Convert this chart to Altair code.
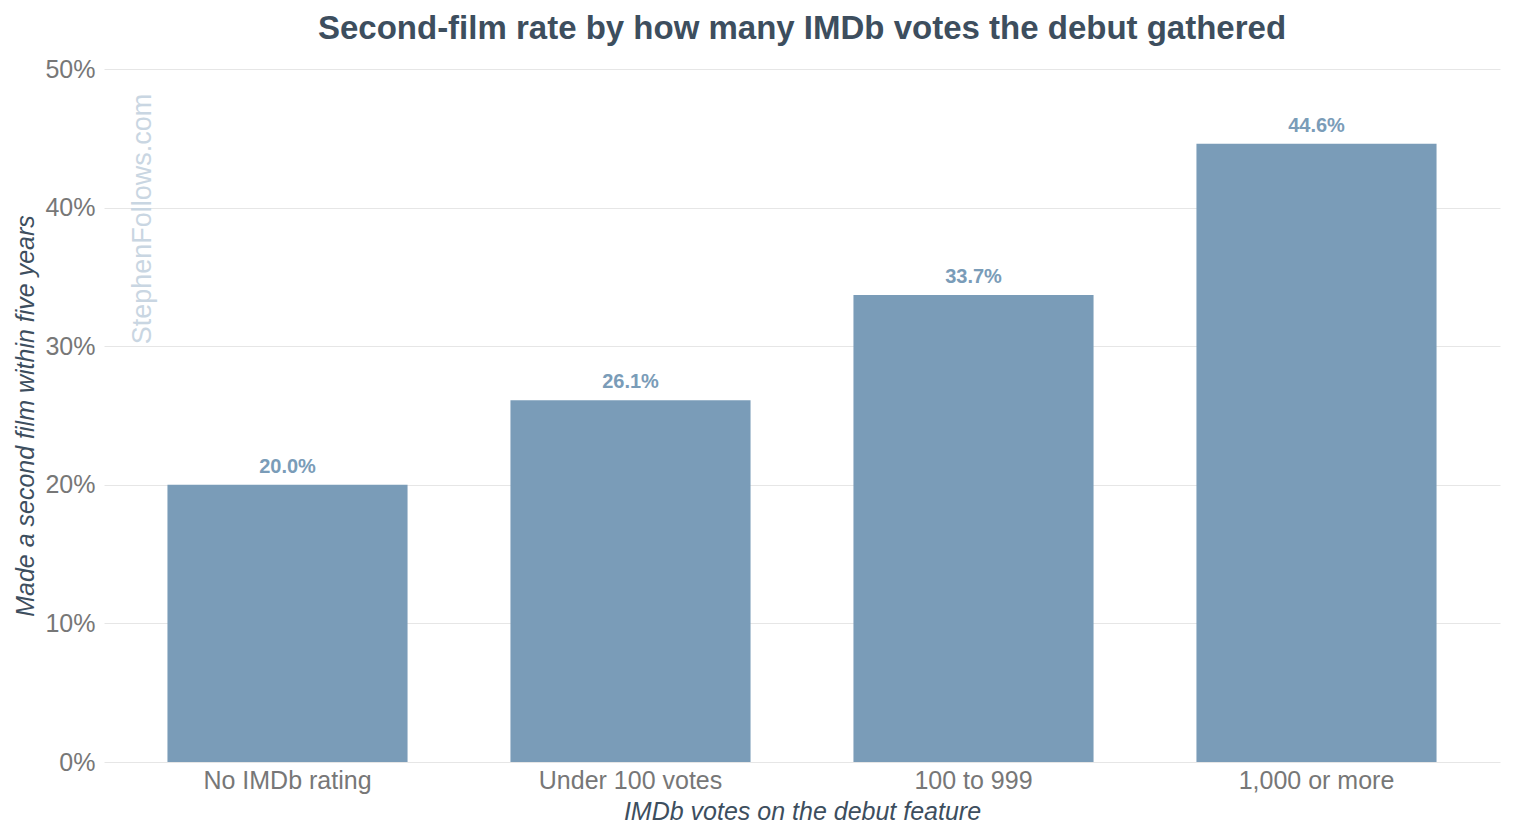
import altair as alt
import pandas as pd

categories = ["No IMDb rating", "Under 100 votes", "100 to 999", "1,000 or more"]
rates = [0.200, 0.261, 0.337, 0.446]
labels = ["20.0%", "26.1%", "33.7%", "44.6%"]

df = pd.DataFrame({"bucket": categories, "rate": rates, "label": labels})

FONT = "Liberation Sans"
BAR = "#7a9cb8"
DARK = "#3d4e5e"

x = alt.X(
    "bucket:N",
    sort=categories,
    title="IMDb votes on the debut feature",
    scale=alt.Scale(paddingInner=0.3, paddingOuter=0.185),
    axis=alt.Axis(labelAngle=0, labelFontSize=25, labelColor="#777777", labelFont=FONT,
                  labelPadding=6, labelLimit=0, ticks=False, domain=False,
                  titleFontSize=25, titleFont=FONT, titleFontStyle="italic",
                  titleFontWeight="normal", titleColor=DARK, titlePadding=6),
)
y = alt.Y(
    "rate:Q",
    title="Made a second film within five years",
    scale=alt.Scale(domain=[0, 0.5]),
    axis=alt.Axis(format=".0%", values=[0, 0.1, 0.2, 0.3, 0.4, 0.5], labelFontSize=25,
                  labelColor="#777777", labelFont=FONT, labelPadding=9, ticks=False,
                  domain=False, gridColor="#e6e6e6", titleFontSize=25, titleFont=FONT,
                  titleFontStyle="italic", titleFontWeight="normal", titleColor=DARK,
                  titlePadding=6),
)

bars = alt.Chart(df).mark_bar(color=BAR).encode(x=x, y=y)

text = alt.Chart(df).mark_text(
    dy=-8, fontSize=20, fontWeight="bold", font=FONT, color=BAR, baseline="bottom"
).encode(x=alt.X("bucket:N", sort=categories), y="rate:Q", text="label:N")

mark = alt.Chart(pd.DataFrame({"t": ["StephenFollows.com"]})).mark_text(
    angle=270, fontSize=27, font=FONT, color="#c9d6e2", align="center", baseline="middle"
).encode(x=alt.value(39), y=alt.value(150), text="t:N")

chart = (
    (bars + text + mark)
    .properties(
        width=1396,
        height=693,
        title=alt.TitleParams(
            "Second-film rate by how many IMDb votes the debut gathered",
            fontSize=33, font=FONT, fontWeight="bold", color=DARK, anchor="middle", offset=11,
        ),
    )
    .configure_view(stroke=None)
)

chart.save("out.html", embed_options={"renderer": "svg", "actions": False})
